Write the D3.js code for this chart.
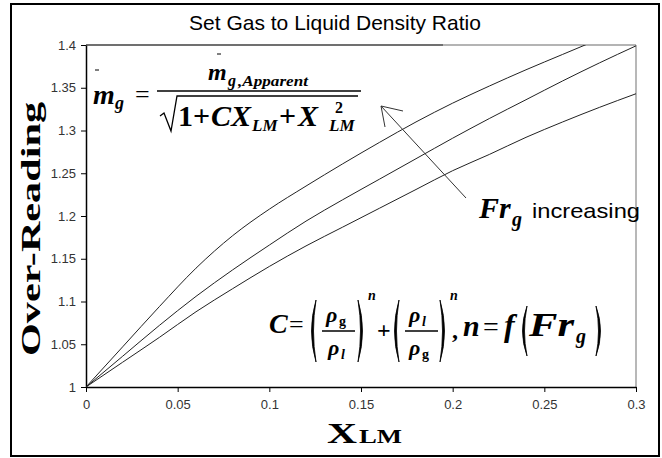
<!DOCTYPE html>
<html>
<head>
<meta charset="utf-8">
<script src="https://cdn.jsdelivr.net/npm/d3@7"></script>
<style>
  body { margin: 0; background: #fff; }
  svg { display: block; }
  .tick text { font-family: 'Liberation Sans Narrow', 'Liberation Sans', Arial, sans-serif; font-size: 13px; fill: #333; }
  .math { font-family: 'Liberation Serif', 'Times New Roman', serif; font-weight: bold; font-style: italic; fill: #000; }
  .upright { font-style: normal; }
</style>
</head>
<body>
<div id="chart"></div>
<script>
// values
const xValues = [0, 0.02, 0.04, 0.06, 0.08, 0.1, 0.12, 0.14, 0.16, 0.18, 0.2, 0.22, 0.24, 0.26, 0.28, 0.3];
const highFr = [1, 1.047, 1.094, 1.139, 1.177, 1.208, 1.235, 1.261, 1.286, 1.310, 1.332, 1.352, 1.371, 1.389, 1.407, 1.425];
const midFr = [1, 1.036, 1.072, 1.106, 1.137, 1.166, 1.194, 1.219, 1.243, 1.267, 1.291, 1.314, 1.336, 1.358, 1.379, 1.399];
const lowFr = [1, 1.029, 1.058, 1.088, 1.115, 1.141, 1.165, 1.187, 1.209, 1.231, 1.253, 1.272, 1.292, 1.310, 1.327, 1.343];
const xTicks = [0, 0.05, 0.1, 0.15, 0.2, 0.25, 0.3];
const yTicks = [1, 1.05, 1.1, 1.15, 1.2, 1.25, 1.3, 1.35, 1.4];

const width = 662;
const height = 458;
const marginLeft = 86;
const marginRight = 26;
const marginTop = 45;
const marginBottom = 71;

const series = [highFr, midFr, lowFr].map(vals => xValues.map((x, i) => ({ x, y: vals[i] })));

const svg = d3.select('#chart').append('svg')
  .attr('width', width)
  .attr('height', height);

// outer frame
svg.append('rect')
  .attr('x', 11).attr('y', 4)
  .attr('width', 648).attr('height', 452)
  .attr('fill', 'none')
  .attr('stroke', '#000')
  .attr('stroke-width', 2);

const x = d3.scaleLinear().domain([0, 0.3]).range([marginLeft, width - marginRight]);
const y = d3.scaleLinear().domain([1, 1.4]).range([height - marginBottom, marginTop]);

// title
svg.append('text')
  .attr('x', 335).attr('y', 30)
  .attr('text-anchor', 'middle')
  .style('font-family', "'Liberation Sans', Arial, sans-serif")
  .style('font-size', '21px')
  .text('Set Gas to Liquid Density Ratio');

// plot frame (top and right, grey)
svg.append('line')
  .attr('x1', x(0)).attr('x2', x(0.195)).attr('y1', y(1.4)).attr('y2', y(1.4))
  .attr('stroke', '#707070').attr('stroke-width', 2);
svg.append('line')
  .attr('x1', x(0.195)).attr('x2', x(0.3)).attr('y1', y(1.4)).attr('y2', y(1.4))
  .attr('stroke', '#b4b4b4').attr('stroke-width', 2);
svg.append('line')
  .attr('x1', x(0.3)).attr('x2', x(0.3)).attr('y1', y(1.4)).attr('y2', y(1))
  .attr('stroke', '#a0a0a0').attr('stroke-width', 1.5);

// axes
svg.append('g')
  .attr('transform', `translate(0, ${y(1)})`)
  .call(d3.axisBottom(x).tickValues(xTicks).tickSize(5).tickSizeOuter(0).tickPadding(8).tickFormat(d => String(d)));
svg.append('g')
  .attr('transform', `translate(${x(0)}, 0)`)
  .call(d3.axisLeft(y).tickValues(yTicks).tickSize(5).tickSizeOuter(0).tickPadding(5).tickFormat(d => String(d)));
svg.selectAll('.domain').attr('stroke', '#000').attr('stroke-width', 1.5);
svg.selectAll('.tick line').attr('stroke', '#000');
svg.selectAll('.tick text').attr('font-family', null).attr('font-size', null);

// curves
svg.append('clipPath').attr('id', 'plot-clip')
  .append('rect')
  .attr('x', x(0)).attr('y', y(1.4))
  .attr('width', x(0.3) - x(0)).attr('height', y(1) - y(1.4));

const line = d3.line()
  .x(d => x(d.x))
  .y(d => y(d.y))
  .curve(d3.curveMonotoneX);

svg.append('g')
  .attr('clip-path', 'url(#plot-clip)')
  .selectAll('path')
  .data(series)
  .join('path')
  .attr('d', line)
  .attr('fill', 'none')
  .attr('stroke', '#222')
  .attr('stroke-width', 1);

// axis titles
svg.append('text')
  .attr('transform', 'translate(40, 229) rotate(-90)')
  .attr('text-anchor', 'middle')
  .attr('textLength', 254)
  .attr('lengthAdjust', 'spacingAndGlyphs')
  .style('font-family', "'Liberation Serif', 'Times New Roman', serif")
  .style('font-weight', 'bold')
  .style('font-size', '28px')
  .text('Over-Reading');

svg.append('text')
  .attr('x', 327).attr('y', 443)
  .attr('textLength', 30)
  .attr('lengthAdjust', 'spacingAndGlyphs')
  .style('font-family', "'Liberation Serif', 'Times New Roman', serif")
  .style('font-weight', 'bold')
  .style('font-size', '30px')
  .text('X');
svg.append('text')
  .attr('x', 359).attr('y', 443)
  .attr('textLength', 43)
  .attr('lengthAdjust', 'spacingAndGlyphs')
  .style('font-family', "'Liberation Serif', 'Times New Roman', serif")
  .style('font-weight', 'bold')
  .style('font-size', '19px')
  .text('LM');

// annotation helpers
function mathText(px, py, size, str, upright) {
  return svg.append('text')
    .attr('class', upright ? 'math upright' : 'math')
    .attr('x', px).attr('y', py)
    .style('font-size', size + 'px')
    .text(str);
}
function stroke(d, w) {
  return svg.append('path')
    .attr('d', d)
    .attr('fill', 'none')
    .attr('stroke', '#000')
    .attr('stroke-width', w || 1);
}
function paren(x0, x1, top, bottom, left) {
  const mid = (top + bottom) / 2;
  const a = left ? x1 : x0;
  const b = left ? x0 : x1;
  const b2 = left ? b + 4 : b - 4;
  // crescent shaped bracket
  svg.append('path')
    .attr('d', `M${a},${top} Q${b},${mid} ${a},${bottom} Q${b2},${mid} ${a},${top} Z`)
    .attr('fill', '#000')
    .attr('stroke', '#000')
    .attr('stroke-width', 0.8);
}

// mass flow formula
mathText(93, 104, 28, 'm');
stroke('M95,70 h4', 1);
mathText(115, 109, 18, 'g');
mathText(135, 103, 26, '=', true).style('font-weight', 'normal');
mathText(208, 80, 24, 'm');
stroke('M217,54 h4', 1);
mathText(228, 86, 16, 'g');
mathText(238, 86, 14, ',Apparent').attr('textLength', 70).attr('lengthAdjust', 'spacingAndGlyphs');
stroke('M157,91 H361', 1.5);
stroke('M160,116 L164,113 L171,131 L177,96 H358', 1.3);
mathText(178, 126, 30, '1+', true);
mathText(211, 126, 30, 'CX');
mathText(252, 131, 17, 'LM');
mathText(279, 126, 30, '+', true);
mathText(298, 126, 30, 'X');
mathText(335, 113, 16, '2', true);
mathText(329, 131, 17, 'LM');

// C formula
mathText(269, 333, 28, 'C');
mathText(289, 333, 26, '=', true).style('font-weight', 'normal');
paren(307, 316, 300, 362, true);
mathText(326, 322, 22, 'ρ');
mathText(339, 326, 14, 'g', true);
stroke('M322,331 H355', 1.3);
mathText(328, 355, 22, 'ρ');
mathText(341, 359, 14, 'l');
paren(358, 367, 300, 362, false);
mathText(368, 300, 14, 'n');
mathText(377, 338, 24, '+', true);
paren(390, 399, 300, 362, true);
mathText(409, 322, 22, 'ρ');
mathText(422, 326, 14, 'l');
stroke('M405,331 H438', 1.3);
mathText(409, 355, 22, 'ρ');
mathText(422, 359, 14, 'g', true);
paren(440, 449, 300, 362, false);
mathText(450, 300, 14, 'n');
mathText(452, 338, 24, ',', true);
mathText(463, 336, 30, 'n');
mathText(483, 336, 28, '=', true).style('font-weight', 'normal');
mathText(504, 336, 32, 'f');
paren(518, 527, 306, 356, true);
mathText(529, 336, 34, 'Fr').attr('textLength', 45).attr('lengthAdjust', 'spacingAndGlyphs');
mathText(576, 343, 20, 'g');
paren(596, 605, 306, 356, false);

// arrow and label
stroke('M466,198 L381,106 M381,106 L385,127 M381,106 L403,111', 1).attr('stroke', '#333');
mathText(479, 218, 30, 'Fr');
mathText(512, 226, 20, 'g');
svg.append('text')
  .attr('x', 532).attr('y', 218)
  .attr('textLength', 108)
  .attr('lengthAdjust', 'spacingAndGlyphs')
  .style('font-family', "'Liberation Sans', Arial, sans-serif")
  .style('font-size', '21px')
  .text('increasing');
</script>
</body>
</html>
